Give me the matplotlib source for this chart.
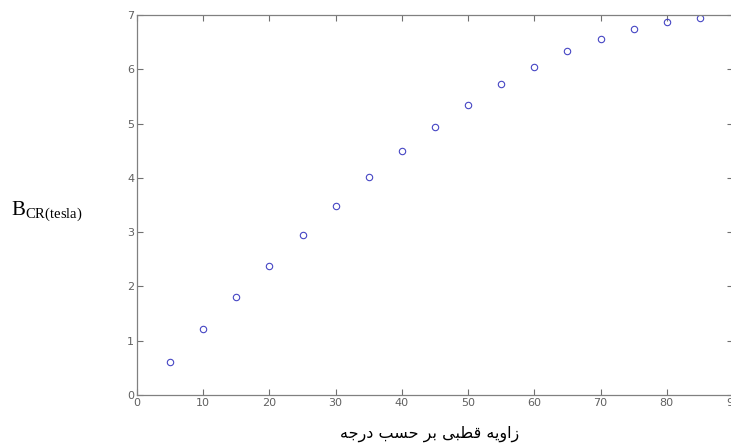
import matplotlib
matplotlib.use('Agg')
import matplotlib.pyplot as plt

# polar angle (degrees) vs critical field B_CR (tesla)
angles = [5, 10, 15, 20, 25, 30, 35, 40, 45, 50, 55, 60, 65, 70, 75, 80, 85]
b_cr = [0.61, 1.21, 1.81, 2.38, 2.95, 3.49, 4.01, 4.50, 4.94, 5.35,
        5.72, 6.05, 6.33, 6.56, 6.75, 6.88, 6.95]
x_ticks = [0, 10, 20, 30, 40, 50, 60, 70, 80, 90]
y_ticks = [0, 1, 2, 3, 4, 5, 6, 7]

y_label = r'$\mathrm{B}_{\mathrm{CR(tesla)}}$'
x_label = 'زاویه قطبی بر حسب درجه'

# matplotlib has no Arabic-script shaping, so pick presentation forms by hand
FORMS = {
    # isolated, final, initial, medial
    'ا': ('\uFE8D', '\uFE8E', None, None),
    'د': ('\uFEA9', '\uFEAA', None, None),
    'ر': ('\uFEAD', '\uFEAE', None, None),
    'ز': ('\uFEAF', '\uFEB0', None, None),
    'و': ('\uFEED', '\uFEEE', None, None),
    'ب': ('\uFE8F', '\uFE90', '\uFE91', '\uFE92'),
    'ج': ('\uFE9D', '\uFE9E', '\uFE9F', '\uFEA0'),
    'ح': ('\uFEA1', '\uFEA2', '\uFEA3', '\uFEA4'),
    'س': ('\uFEB1', '\uFEB2', '\uFEB3', '\uFEB4'),
    'ط': ('\uFEC1', '\uFEC2', '\uFEC3', '\uFEC4'),
    'ق': ('\uFED5', '\uFED6', '\uFED7', '\uFED8'),
    'ه': ('\uFEE9', '\uFEEA', '\uFEEB', '\uFEEC'),
    'ی': ('\uFBFC', '\uFBFD', '\uFBFE', '\uFBFF'),
}


def shape_rtl(text):
    out = []
    for word in text.split(' '):
        chars = []
        for i, ch in enumerate(word):
            if ch not in FORMS:
                chars.append(ch)
                continue
            iso, fin, ini, med = FORMS[ch]
            prev_joins = i > 0 and word[i - 1] in FORMS and FORMS[word[i - 1]][2] is not None
            next_joins = i < len(word) - 1 and word[i + 1] in FORMS and ini is not None
            if prev_joins and next_joins:
                chars.append(med)
            elif prev_joins:
                chars.append(fin)
            elif next_joins:
                chars.append(ini)
            else:
                chars.append(iso)
        out.append(''.join(chars))
    return ' '.join(out)[::-1]


plt.rcParams['mathtext.fontset'] = 'custom'
plt.rcParams['mathtext.rm'] = 'Liberation Serif'

fig = plt.figure(figsize=(7.31, 4.46), dpi=100)
ax = fig.add_axes([137 / 731, 51 / 446, 596 / 731, 380 / 446])

ax.plot(angles, b_cr, 'o', mfc='none', mec='#4646c4', ms=4.6, mew=0.8)

ax.set_xlim(0, 90)
ax.set_ylim(0, 7)
ax.set_xticks(x_ticks)
ax.set_yticks(y_ticks)
ax.tick_params(direction='in', top=True, right=True, length=4.5, width=0.8,
               color='#707070', labelcolor='#606060', labelsize=8, pad=2)
for lbl in ax.get_xticklabels() + ax.get_yticklabels():
    lbl.set_family(['Liberation Sans Narrow', 'DejaVu Sans'])
for sp in ax.spines.values():
    sp.set_color('#808080')
    sp.set_linewidth(0.9)

fig.text(11 / 731, 1 - 212 / 446, y_label, fontsize=15, ha='left', va='center')
fig.text(430 / 731, 1 - 434 / 446, shape_rtl(x_label), fontsize=11.5,
         ha='center', va='center', family=['DejaVu Sans'])

fig.savefig('out.png', dpi=100)
